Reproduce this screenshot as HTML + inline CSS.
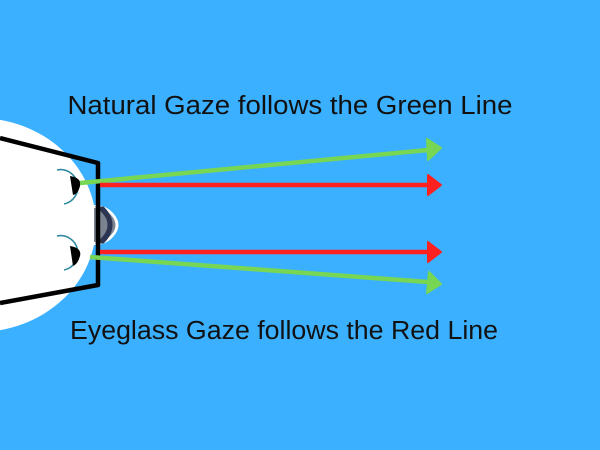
<!DOCTYPE html>
<html><head><style>html,body{margin:0;padding:0;background:#3ab0ff;}svg{display:block}</style></head>
<body>
<svg width="600" height="450" viewBox="0 0 600 450" xmlns="http://www.w3.org/2000/svg">
<rect width="600" height="450" fill="#3ab0ff"/>
<ellipse cx="-22" cy="225" rx="118" ry="107" fill="#fff"/>
<!-- eyes -->
<path d="M57,170 A17,17 0 0 1 64,204" fill="none" stroke="#2f8aa0" stroke-width="1.6"/>
<path d="M57,236 A17,17 0 0 1 64,270" fill="none" stroke="#2f8aa0" stroke-width="1.6"/>
<path d="M70,176 Q82,178 80,186 Q78,194 73,195 Z" fill="#000"/>
<path d="M70,246 Q82,248 80,256 Q78,264 73,266 Z" fill="#000"/>
<!-- nose -->
<path d="M94,205 Q106,205 113,213 Q124,225 113,237 Q106,245 94,245 Z" fill="#fff"/>
<path d="M94,208 Q105,208 111,215 Q120,225 111,235 Q105,242 94,242 Z" fill="#7c8390"/>
<path d="M99,208 Q109,216 109,225 Q109,234 99,242 L103,242 Q111,234 111,225 Q111,216 103,208 Z" fill="#2c3552" stroke="#2c3552" stroke-width="3"/>
<!-- glasses -->
<path d="M0,138 L98,163 L98,285 L0,303" fill="none" stroke="#000" stroke-width="4.5" stroke-linejoin="round"/>
<!-- lines -->
<g stroke-width="4.5" stroke-linecap="butt">
<line x1="80" y1="183" x2="428" y2="150" stroke="#77d653"/>
<line x1="90" y1="257" x2="428" y2="282" stroke="#77d653"/>
<line x1="100" y1="185" x2="428" y2="185" stroke="#ff2020"/>
<line x1="100" y1="252" x2="428" y2="252" stroke="#ff2020"/>
</g>
<polygon points="427,139 441,148 428,160" fill="#77d653" stroke="#77d653" stroke-width="2" stroke-linejoin="round"/>
<polygon points="428,175 441,185 428,195" fill="#ff2020" stroke="#ff2020" stroke-width="2" stroke-linejoin="round"/>
<polygon points="428,242 441,252 428,262" fill="#ff2020" stroke="#ff2020" stroke-width="2" stroke-linejoin="round"/>
<polygon points="429,272 441,284 427,293" fill="#77d653" stroke="#77d653" stroke-width="2" stroke-linejoin="round"/>
<text x="290" y="114" text-anchor="middle" font-family="Liberation Sans, sans-serif" font-size="25.5" fill="#111" textLength="445" lengthAdjust="spacingAndGlyphs">Natural Gaze follows the Green Line</text>
<text x="284" y="339" text-anchor="middle" font-family="Liberation Sans, sans-serif" font-size="25.5" fill="#111" textLength="428" lengthAdjust="spacingAndGlyphs">Eyeglass Gaze follows the Red Line</text>
</svg>
</body></html>
